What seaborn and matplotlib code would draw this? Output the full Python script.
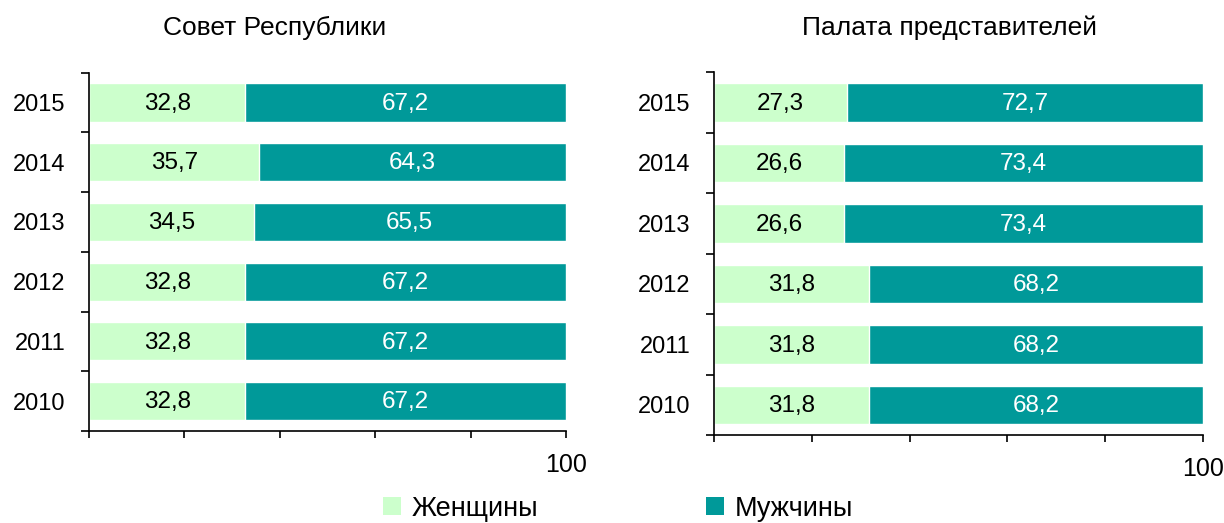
import numpy as np
import pandas as pd
import matplotlib.pyplot as plt
import seaborn as sns
from matplotlib.patches import Patch

sns.set_theme(style="white")
plt.rcParams['font.family'] = ['Liberation Sans', 'DejaVu Sans']
plt.rcParams['text.color'] = 'black'
plt.rcParams['xtick.labelcolor'] = 'black'
plt.rcParams['ytick.labelcolor'] = 'black'

# data
years = ['2015', '2014', '2013', '2012', '2011', '2010']
council_women = [32.8, 35.7, 34.5, 32.8, 32.8, 32.8]
council_men = [67.2, 64.3, 65.5, 67.2, 67.2, 67.2]
house_women = [27.3, 26.6, 26.6, 31.8, 31.8, 31.8]
house_men = [72.7, 73.4, 73.4, 68.2, 68.2, 68.2]
titles = ['Совет Республики', 'Палата представителей']
series_names = ['Женщины', 'Мужчины']

c_women = '#CCFFCC'
c_men = '#009999'


def fmt(v):
    return f'{v:.1f}'.replace('.', ',')


def draw_panel(ax, women, men):
    df = pd.DataFrame({'year': years, 'women': women, 'men': men})
    df['total'] = df['women'] + df['men']
    # men bar drawn as the full stack, women drawn over it
    sns.barplot(data=df, y='year', x='total', order=years, orient='h',
                color=c_men, saturation=1, width=0.64, ax=ax)
    sns.barplot(data=df, y='year', x='women', order=years, orient='h',
                color=c_women, saturation=1, width=0.64, ax=ax)
    for i, (w, m) in enumerate(zip(women, men)):
        ax.text(w / 2, i + 0.02, fmt(w), ha='center', va='center', fontsize=17.5, color='black')
        ax.text(w + m / 2, i + 0.02, fmt(m), ha='center', va='center', fontsize=17.5, color='white')

    ax.set_xlim(0, 100)
    ax.set_ylim(len(years) - 0.5, -0.5)
    ax.set_xlabel('')
    ax.set_ylabel('')
    sns.despine(ax=ax)
    for s in ['left', 'bottom']:
        ax.spines[s].set_color('black')
        ax.spines[s].set_linewidth(1.2)

    ax.set_xticks([0, 20, 40, 60, 80, 100])
    ax.set_xticklabels(['', '', '', '', '', '100'])
    ax.tick_params(axis='x', bottom=True, direction='out', length=5, width=1.2,
                   color='black', labelcolor='black', labelsize=18, pad=11)
    ax.set_yticks(range(len(years)))
    ax.set_yticklabels(years)
    ax.set_yticks(np.arange(-0.5, len(years)), minor=True)
    ax.tick_params(axis='y', which='major', left=False, length=0, labelsize=17,
                   labelcolor='black', pad=17)
    ax.tick_params(axis='y', which='minor', left=True, direction='out', length=6,
                   width=1.2, color='black')


fig = plt.figure(figsize=(12.24, 5.23), dpi=100)
ax1 = fig.add_axes([0.0727, 0.176, 0.3897, 0.685])
ax2 = fig.add_axes([0.5833, 0.168, 0.3995, 0.694])

draw_panel(ax1, council_women, council_men)
draw_panel(ax2, house_women, house_men)

fig.text(0.2247, 0.946, titles[0], ha='center', va='center', fontsize=19, color='black')
fig.text(0.776, 0.946, titles[1], ha='center', va='center', fontsize=19, color='black')

handles = [Patch(facecolor=c_women, edgecolor='none'), Patch(facecolor=c_men, edgecolor='none')]
leg = fig.legend(handles, series_names, loc='lower center', bbox_to_anchor=(0.505, -0.044),
                 ncol=2, frameon=False, fontsize=19.5, handlelength=0.65, handleheight=0.65,
                 handletextpad=0.4, columnspacing=6.2)
for t in leg.get_texts():
    t.set_color('black')

fig.savefig('out.png', dpi=100)
